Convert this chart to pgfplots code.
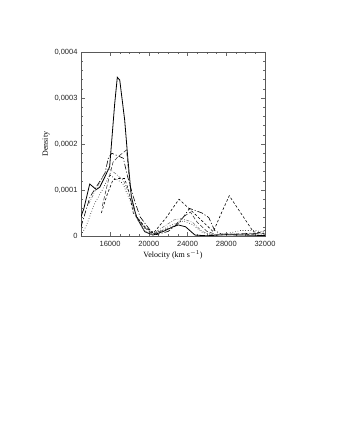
\documentclass[border=0pt]{standalone}
\usepackage{fontspec}
\setmainfont{Liberation Serif}
\setsansfont{Liberation Sans}
\usepackage{pgfplots}
\pgfplotsset{compat=1.18}

\begin{document}
\begin{tikzpicture}
\path[use as bounding box] (0,0) rectangle (337pt,436pt);
\begin{axis}[
    at={(81pt,200pt)}, anchor=south west,
    scale only axis,
    width=184pt, height=184pt,
    xmin=13000, xmax=32000,
    ymin=0, ymax=0.0004,
    xtick={16000,20000,24000,28000,32000},
    xticklabels={16000,20000,24000,28000,32000},
    ytick={0,0.0001,0.0002,0.0003,0.0004},
    yticklabels={0,{0,0001},{0,0002},{0,0003},{0,0004}},
    scaled y ticks=false, scaled x ticks=false,
    minor x tick num=3, minor y tick num=4,
    tick align=inside,
    major tick length=4pt, minor tick length=2pt,
    axis line style={black!65, line width=0.4pt},
    every tick/.style={black!60, line width=0.35pt},
    tick label style={font=\sffamily\fontsize{7.5}{8}\selectfont, black!85},
    xticklabel style={yshift=-2pt},
    xlabel={Velocity (km s$^{-1}$)},
    ylabel={Density},
    label style={font=\fontsize{8}{9}\selectfont},
    xlabel style={yshift=3pt},
    ylabel style={yshift=-2pt},
    clip=true,
]
% solid
\addplot[black, line width=0.8pt] coordinates {
(13000,0.000042) (13300,0.00006) (13900,0.000113) (14580,0.000101) (14930,0.000106)
(15500,0.00013) (15960,0.000151) (16480,0.000288) (16750,0.000345) (17000,0.000339)
(17510,0.000252) (17850,0.000165) (18200,0.0000855) (18710,0.000042) (19580,0.0000094)
(20430,0.000002) (21500,0.00001) (22500,0.00002) (23050,0.000024) (23800,0.00002)
(24770,0.000002) (26000,0.0000005) (28000,0.000003) (30000,0.000002) (32000,0.000001)
};
% long dash-dot
\addplot[black, line width=0.6pt, dash pattern=on 6pt off 2pt on 1pt off 2pt] coordinates {
(13000,0.00002) (13930,0.000085) (15480,0.000137) (15820,0.000169) (16170,0.00018)
(17370,0.000169) (17800,0.00013) (18400,0.0000855) (19090,0.000042) (20125,0.000013)
(20800,0.000003) (22000,0.00001) (23200,0.00003) (24200,0.00006) (25500,0.00005)
(26200,0.00004) (26800,0.000012) (27500,0.000004) (29000,0.000004) (30500,0.000006) (32000,0.000004)
};
% medium dash
\addplot[black!80, line width=0.55pt, dash pattern=on 4pt off 2pt] coordinates {
(15200,0.000065) (15700,0.00011) (16300,0.00016) (16800,0.000172) (17700,0.000187)
(18000,0.00012) (18300,0.00007) (18800,0.00004) (19600,0.000018) (20400,0.000004)
(22500,0.00002) (23800,0.000045) (24300,0.000052) (25000,0.00003) (26000,0.00001)
(27000,0.000003) (29000,0.000002) (31000,0.000004) (32000,0.000012)
};
% short dash, double peak
\addplot[black, line width=0.6pt, dash pattern=on 2.5pt off 2pt] coordinates {
(15100,0.00005) (15700,0.00009) (16300,0.000122) (16900,0.000125) (17500,0.000125)
(17900,0.0001) (18400,0.00005) (19600,0.00002) (20470,0.000006) (21800,0.00004)
(23120,0.00008) (24900,0.000045) (26660,0.0000093) (27500,0.00005) (28310,0.0000876)
(29500,0.00005) (30790,0.0000093) (32000,0.000005)
};
% dotted
\addplot[black, line width=0.6pt, dotted] coordinates {
(13000,0.000002) (13500,0.00002) (14400,0.00007) (15200,0.0001) (15960,0.000133)
(16500,0.000125) (17300,0.000115) (18000,0.00008) (18700,0.000045) (19500,0.000018)
(20500,0.000005) (22500,0.000025) (23600,0.000033) (24500,0.000025) (25500,0.000008)
(26500,0.000003) (28000,0.000005) (29500,0.000012) (31000,0.000012) (32000,0.000008)
};
% gray dash-dot
\addplot[black!55, line width=0.55pt, dash pattern=on 3pt off 1.5pt on 0.8pt off 1.5pt] coordinates {
(13800,0.00007) (14500,0.0001) (15300,0.00013) (15800,0.000148) (16600,0.000135)
(17400,0.00012) (18000,0.00009) (18700,0.00004) (19500,0.000012) (20300,0.000003)
(22600,0.000035) (23400,0.000038) (24500,0.00003) (25500,0.00001) (26500,0.000003)
(28000,0.000004) (30000,0.000006) (32000,0.000004)
};
\end{axis}
\end{tikzpicture}
\end{document}
